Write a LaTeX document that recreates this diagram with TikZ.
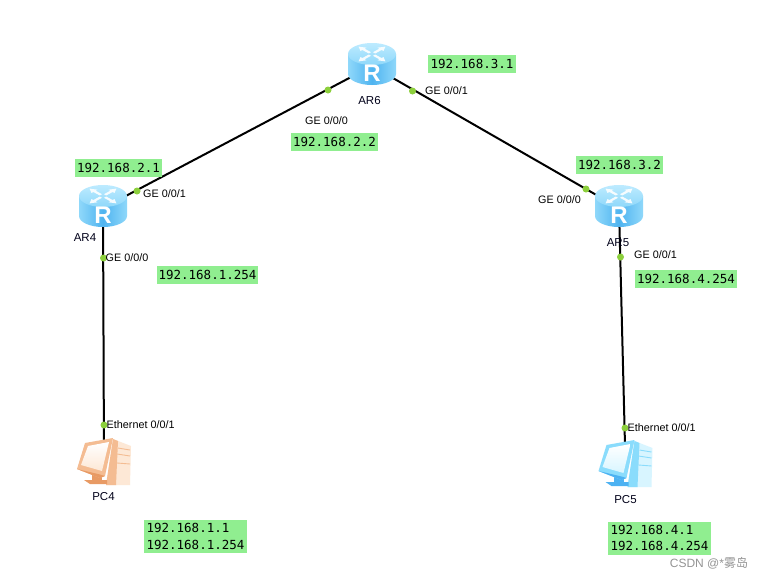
\documentclass[tikz,border=0pt]{standalone}
\usepackage{fontspec}
\setmainfont{Liberation Sans}
\newfontfamily\ipfont{DejaVu Sans Mono}
\newfontfamily\cjkwm{Noto Sans CJK SC}
\definecolor{ipgreen}{HTML}{90EE90}
\definecolor{dotgreen}{HTML}{8CCF3C}
\definecolor{rlight}{HTML}{BDEBFF}
\definecolor{rmid}{HTML}{8FD8FA}
\definecolor{rdark}{HTML}{4FB4F0}
\definecolor{pcorange}{HTML}{F4BC92}
\definecolor{pcorangedark}{HTML}{E89A64}
\definecolor{pcorangelight}{HTML}{FDE8D6}
\definecolor{pcblue}{HTML}{8ADCFC}
\definecolor{pcbluedark}{HTML}{4DB2F2}
\definecolor{pcbluelight}{HTML}{D8F5FF}
\tikzset{
  anchorpt/.style={inner sep=0pt,minimum size=0pt},
  link/.style={draw=black,line width=2pt},
  portdot/.style={circle,fill=dotgreen,inner sep=0pt,minimum size=7pt},
  portlabel/.style={anchor=west,inner sep=0pt,font=\fontsize{10.8}{12}\selectfont,text=black},
  devlabel/.style={inner sep=0pt,font=\fontsize{11.5}{13}\selectfont,text=black!90!blue},
  iplabel/.style={fill=ipgreen,inner sep=0pt,minimum height=18pt,font=\ipfont\fontsize{12.5}{16.5}\selectfont,text=black},
  iplabeltwo/.style={iplabel,align=left},
  pics/routericon/.style={code={
    \begin{scope}[shift={(0,-2)}]
    \shade[left color=rmid,right color=rmid,middle color=rdark]
      (-24,-10) -- (-24,10) arc[start angle=180,end angle=0,x radius=24,y radius=11] -- (24,-10) -- cycle;
    \shade[top color=rlight,bottom color=rmid]
      (0,-10) circle[x radius=24,y radius=11];
    \foreach \a in {45,135,225,315}{
      \begin{scope}[shift={(0,-10)},yscale=.55,rotate=\a]
        \fill[white,opacity=.9] (3,-1.6) -- (12,-1.6) -- (12,-4.2) -- (19,0) -- (12,4.2) -- (12,1.6) -- (3,1.6) -- cycle;
      \end{scope}}
    \node[text=white,inner sep=0pt,font=\bfseries\fontsize{24}{24}\selectfont] at (0,9.5) {R};
    \end{scope}
  }},
  pics/pcicon/.style args={#1/#2/#3}{code={
    % tower
    \fill[#3] (9,-24) -- (27,-17) -- (26,22) -- (2,22) -- cycle;
    \fill[#1] (9,-24) -- (14,-22) -- (12,22) -- (2,22) -- cycle;
    \draw[#1,line width=.9pt] (14,-15) -- (26,-13) (13,-9) -- (26,-7) (13,0) -- (26,1);
    % stand
    \fill[#2] (-20,17) -- (3,17) -- (3,21) -- (-14,21) -- cycle;
    \fill[#2] (-12,11) -- (-2,11) -- (-2,18) -- (-12,18) -- cycle;
    % monitor
    \fill[#1] (-27,6) -- (-19,-20) -- (9,-25) -- (1,13) -- (-4,15) -- cycle;
    \fill[#2] (-27,6) -- (-4,15) -- (1,13) -- (-4,11.5) -- cycle;
    \shade[top color=white,bottom color=#3] (-23,2) -- (-16,-17) -- (5,-21) -- (-2,8) -- cycle;
  }},
}
\begin{document}
\begin{tikzpicture}[x=1pt,y=-1pt]
\useasboundingbox (0,0) rectangle (764,579);
\fill[white] (0,0) rectangle (764,579);
\node[anchorpt] (ar6) at (372,66) {};
\node[anchorpt] (ar4) at (103,208) {};
\node[anchorpt] (ar5) at (619,208) {};
\node[anchorpt] (pc4) at (104,463) {};
\node[anchorpt] (pc5) at (625.5,465) {};
\draw[link] (ar4) -- (ar6);
\draw[link] (ar6) -- (ar5);
\draw[link] (ar4) -- (pc4);
\draw[link] (ar5) -- (pc5);
\pic at (ar6) {routericon};
\pic at (ar4) {routericon};
\pic at (ar5) {routericon};
\pic at (pc4) {pcicon={pcorange/pcorangedark/pcorangelight}};
\pic at (pc5) {pcicon={pcblue/pcbluedark/pcbluelight}};
\node[portdot] (d1) at (137,191) {};
\node[portdot] (d2) at (328,90) {};
\node[portdot] (d3) at (412.5,91) {};
\node[portdot] (d4) at (586,189) {};
\node[portdot] (d5) at (103.5,258) {};
\node[portdot] (d6) at (620.5,257) {};
\node[portdot] (d7) at (104,425) {};
\node[portdot] (d8) at (625,428) {};
\node[portlabel] (l1) at (143,194) {GE 0/0/1};
\node[portlabel] (l2) at (305,121) {GE 0/0/0};
\node[portlabel] (l3) at (425,91) {GE 0/0/1};
\node[portlabel] (l4) at (538,200) {GE 0/0/0};
\node[portlabel] (l5) at (105.5,258) {GE 0/0/0};
\node[portlabel] (l6) at (634,255) {GE 0/0/1};
\node[portlabel] (l7) at (106.5,425) {Ethernet 0/0/1};
\node[portlabel] (l8) at (627.5,428) {Ethernet 0/0/1};
\node[devlabel] (n6) at (369.5,101) {AR6};
\node[devlabel] (n4) at (85,238) {AR4};
\node[devlabel] (n5) at (618,243) {AR5};
\node[devlabel] (n7) at (103.5,497) {PC4};
\node[devlabel] (n8) at (625.5,500) {PC5};
\node[iplabel,minimum width=87pt] (i1) at (118.5,168) {192.168.2.1};
\node[iplabel,minimum width=101pt] (i2) at (207.5,274.5) {192.168.1.254};
\node[iplabel,minimum width=88pt] (i3) at (472,64) {192.168.3.1};
\node[iplabel,minimum width=87pt] (i4) at (334.5,142) {192.168.2.2};
\node[iplabel,minimum width=87pt] (i5) at (619.5,165) {192.168.3.2};
\node[iplabel,minimum width=102pt] (i6) at (686,279) {192.168.4.254};
\node[iplabeltwo,minimum width=103pt,minimum height=33pt] (i7) at (195.5,536.5) {192.168.1.1\\192.168.1.254};
\node[iplabeltwo,minimum width=103pt,minimum height=33pt] (i8) at (659.5,538) {192.168.4.1\\192.168.4.254};
\node[inner sep=0pt,text=black!42,font=\fontsize{12}{14}\selectfont] (wm) at (709,563) {CSDN @*{\cjkwm 雾岛}};
\end{tikzpicture}
\end{document}
